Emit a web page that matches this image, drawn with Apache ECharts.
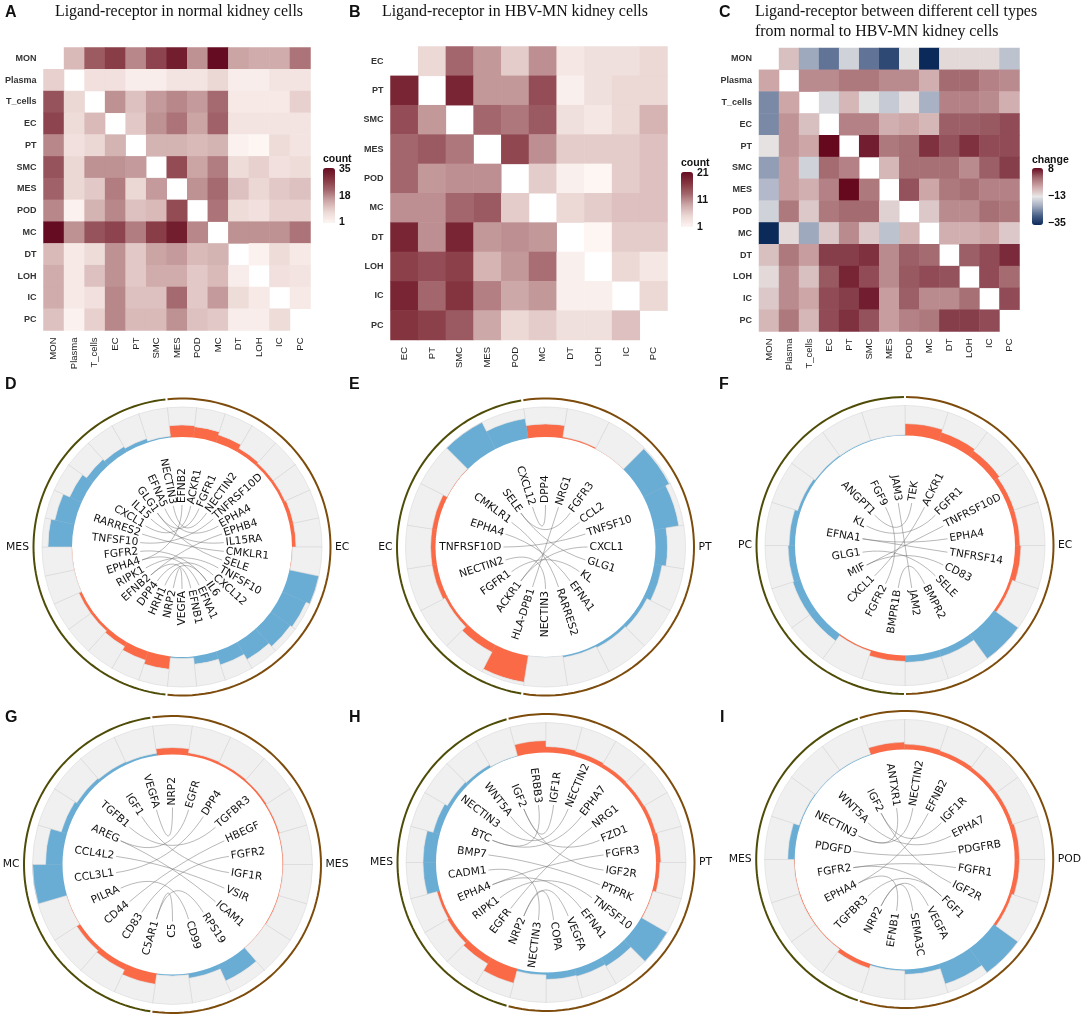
<!DOCTYPE html>
<html><head><meta charset="utf-8">
<style>html,body{margin:0;padding:0;background:#fff}#c{width:1084px;height:1019px}</style>
<script src="https://cdn.jsdelivr.net/npm/echarts@6/dist/echarts.min.js"></script>
</head><body><div id="c"></div>
<script>
// ---------- heatmap data ----------
const cellsA = ['MON','Plasma','T_cells','EC','PT','SMC','MES','POD','MC','DT','LOH','IC','PC'];
const cellsB = ['EC','PT','SMC','MES','POD','MC','DT','LOH','IC','PC'];
const _ = null;
const countsA = [
 [_,12,23,27,18,26,32,17,35,15,14,14,20],
 [9,_,6,6,3,3,5,5,8,3,3,5,5],
 [24,8,_,17,11,16,18,16,21,4,4,4,9],
 [26,7,12,_,10,17,20,15,22,5,5,5,5],
 [18,6,8,13,_,13,13,12,13,2,1,7,5],
 [24,8,17,17,16,_,25,15,19,7,9,6,7],
 [22,8,10,19,8,16,_,17,21,11,8,10,11],
 [18,2,13,18,11,12,25,_,20,7,6,9,9],
 [35,17,24,26,19,27,32,18,_,17,17,17,20],
 [12,4,7,17,10,15,16,12,13,_,2,7,4],
 [14,4,11,17,10,14,14,10,12,3,_,6,5],
 [14,4,6,18,11,11,21,10,16,7,4,_,4],
 [11,2,9,18,12,12,17,11,10,3,3,7,_]];
const countsB = [
 [_,5,13,10,6,10.5,3,4,4,5],
 [18.5,_,18.5,10,10,15,2,4,5,5],
 [15,10,_,13,12,14,4,3,5,8],
 [13,14,12,_,15.5,10.5,6,6,6,7],
 [13,10,10.5,10.5,_,6,2,1,6,7],
 [10.5,10.5,13,14,6,_,5,6,7,7],
 [18.5,10.5,18.5,10,10.5,10,_,1,6,6],
 [16,15,16,8,10,12.5,2,_,5,3],
 [18.5,13,17,11.5,9,10,2,2,_,5],
 [17,16,14,9,5,6,4,4,7,_]];
const changeC = [
 [_,-9,-21,-26,-16,-26,-31,-14,-35,-12,-12,-12,-18],
 [-6,_,-3,-3,-1,-1,-3,-3,-7,0.5,0.5,-2,-3],
 [-24,-6,_,-15,-8,-14,-17,-12.5,-20,-2,-2,-3,-7],
 [-24,-4,-9,_,-2,-2,-7,-6,-8,1.5,1.5,2,3],
 [-13,-4,-6,8,_,6.5,-1,0,5,2.5,5,3,3],
 [-22,-5,-16,0.5,-2,_,-8,0,0,0,-3,1.5,4],
 [-19,-5,-7,-2,8,-1,_,2.5,-6,-1,0,-2,-2],
 [-16,-1,-10,-1,0.5,0.5,-11,_,-10,-3,-3,0,-1],
 [-35,-12,-21,-10,-3,-10,-18,-8,_,-7,-7,-6,-10],
 [-9,-1,-5,4,4,5,-3,1.5,0.5,_,1.5,3,5.5],
 [-12,-3,-9,2,6,3,-3,2,3,2.5,_,3,0.5],
 [-10,-3,-6,3,4,6.5,-5,1.5,-3,-3,0,_,3],
 [-8,-1,-8,3,5,2.5,-5,-2,-1,4,4,3,_]];
const ticksA = ['35','18','1'], ticksB = ['21','11','1'], ticksC = ['8','\u221213','\u221235'];

// ---------- circular panels data (clockwise from the start of the right-hand half) ----------
const dLabels = ['EFNB2','ACKR1','FGFR1','NECTIN2','TNFRSF10D','EPHA4','EPHB4','IL15RA','CMKLR1','SELE','TNFSF10','CXCL12','IL6','EFNA1','EFNB1','VEGFA','NRP2','HRH1','DPP4','EFNB2','RIPK1','EPHA4','FGFR2','TNFSF10','RARRES2','CXCL1','IL15','GLG1','EFNA5','NECTIN3'];
const dValues = [12,11,8,4,3,3,4,4,0.5,30,26,24,20,14,8,1.5,13,9,5,3,3,0.3,0.3,24,20,13,8,6,4,1.5];
const dKinds  = 'OOOOOOOOOBBBBBBBOOOOOOOBBBBBBB';
const dChords = [[0,21],[1,25],[2,27],[3,29],[4,23],[5,28],[6,19],[7,26],[8,24],[9,27],[10,20],[11,18],[12,17],[13,21],[14,19],[15,16],[22,12]];

const eLabels = ['DPP4','NRG1','FGFR3','CCL2','TNFSF10','CXCL1','GLG1','KL','EFNA1','RARRES2','NECTIN3','HLA-DPB1','ACKR1','FGFR1','NECTIN2','TNFRSF10D','EPHA4','CMKLR1','SELE','CXCL12'];
const eValues = [13,1.5,0.3,29,25,12,8,4,3,2,0.3,27,8,3,5,5,5,0.6,30,20];
const eKinds  = 'OOOBBBBBBBBOOOOOOOBB';
const eChords = [[0,19],[1,11],[2,18],[3,12],[4,15],[5,12],[6,18],[7,13],[8,16],[9,17],[10,14]];

const fLabels = ['TEK','ACKR1','FGFR1','TNFRSF10D','EPHA4','TNFRSF14','CD83','SELE','BMPR2','JAM2','BMPR1B','FGFR2','CXCL1','MIF','GLG1','EFNA1','KL','ANGPT1','FGF9','JAM3'];
const fValues = [12,9,7,5,5,6,3,30,7,7,6,1.5,8,8,7,6,3,1.5,1,0.8];
const fKinds  = 'OOOOOOOBBBOOBBBBBBBB';
const fChords = [[0,17],[1,12],[2,16],[3,13],[4,15],[5,15],[6,13],[7,14],[8,10],[9,19],[11,18]];

const gLabels = ['NRP2','EGFR','DPP4','TGFBR3','HBEGF','FGFR2','IGF1R','VSIR','ICAM1','RPS19','CD99','C5','C5AR1','CD83','CD44','PILRA','CCL3L1','CCL4L2','AREG','TGFB1','IGF1','VEGFA'];
const gValues = [7,3,2.5,2,1.5,1,0.8,1,0.5,18,5,1.5,11,6,4,0.5,30,17,6,4,3,2.5];
const gKinds  = 'OOOOOOOOOBBBOOOOBBBBBB';
const gChords = [[21,0],[1,18],[2,16],[3,19],[4,14],[5,13],[6,20],[7,17],[8,18],[9,12],[10,15],[11,12]];

const hLabels = ['ERBB3','IGF1R','NECTIN2','EPHA7','NRG1','FZD1','FGFR3','IGF2R','PTPRK','TNFSF10','EFNA1','VEGFA','COPA','NECTIN3','NRP2','EGFR','RIPK1','EPHA4','CADM1','BMP7','BTC','NECTIN3','WNT5A','IGF2'];
const hValues = [12,6,5,4,3.5,4,5,4,1,30,10,8,7,2.5,15,7,4,3,13,13,7,4,3,0.8];
const hKinds  = 'OOOOOOOOOBBBBBOOOOBBBBBB';
const hChords = [[0,20],[1,23],[2,21],[3,20],[4,15],[5,22],[6,17],[7,23],[8,19],[9,16],[10,17],[11,14],[12,14],[13,18]];

const iLabels = ['ANTXR1','NECTIN2','EFNB2','IGF1R','EPHA7','PDGFRB','FGFR1','IGF2R','FGF1','VEGFA','SEMA3C','EFNB1','NRP2','TGFBR3','EPHA4','FGFR2','PDGFD','NECTIN3','WNT5A','IGF2'];
const iValues = [7.5,5.5,4.5,4,4,5,5,3,30,21,5,1.5,4.5,1,1,0.8,7,1.2,0.8,0.8];
const iKinds  = 'OOOOOOOOBBBBOOOOBBBB';
const iChords = [[0,17],[1,17],[2,14],[3,19],[4,18],[5,16],[6,15],[7,19],[8,15],[8,13],[9,12],[10,12],[11,14]];

const ORANGE='#fb6a47', BLUE='#69add5', GREY='#f0f0f0';
const series=[], grid=[], xAxis=[], yAxis=[], visualMap=[], polar=[], angleAxis=[], radiusAxis=[];

// ---------- heatmaps ----------
function addHeat(cats, matrix, box, vm){
  const gi = grid.length;
  grid.push({left:box[0], top:box[1], width:box[2], height:box[3]});
  xAxis.push({type:'category', gridIndex:gi, data:cats, axisLine:{show:false}, axisTick:{show:false}, splitLine:{show:false}, splitArea:{show:false},
    axisLabel:{rotate:90, interval:0, margin:7, color:'#222', fontFamily:'Liberation Sans', fontSize:9.5}});
  yAxis.push({type:'category', gridIndex:gi, inverse:true, data:cats, axisLine:{show:false}, axisTick:{show:false}, splitLine:{show:false}, splitArea:{show:false},
    axisLabel:{interval:0, margin:7, color:'#333', fontFamily:'Liberation Sans', fontSize:9, fontWeight:'bold'}});
  const data=[];
  matrix.forEach((row,y)=>row.forEach((v,x)=>{ if(v!==null) data.push([x,y,v]); }));
  const si = series.length;
  series.push({type:'heatmap', xAxisIndex:gi, yAxisIndex:gi, data, silent:true, animation:false, itemStyle:{borderWidth:0}, progressive:0});
  visualMap.push({type:'continuous', seriesIndex:si, dimension:2, min:vm.min, max:vm.max, left:vm.x, top:vm.y, itemWidth:vm.w, itemHeight:vm.h,
    padding:0, calculable:false, text:null, showLabel:false, inRange:{color:vm.colors}, textStyle:{fontSize:0}});
}
const reds = ['#fdf6f3','#ecd8d5','#cda8a8','#a3666c','#84343f','#660c22'];
addHeat(cellsA, countsA, [43.5,47.5,267,283], {min:1,max:35,x:323,y:168,w:12,h:55,colors:reds});
addHeat(cellsB, countsB, [390.5,46.5,277,293.5], {min:1,max:21,x:681,y:172,w:12,h:55,colors:reds});
addHeat(cellsA, changeC, [759,48,260.5,283.5], {min:-35,max:8,x:1032,y:168,w:11,h:57,
  colors:['#0b2a5a','#4a6188','#a3acc1','#e8e6e6','#cfa9aa','#a2686e','#66091f']});

// ---------- circular panels ----------
function addCircle(p){
  const n = p.labels.length, w = 360/n;
  const start = 90 + p.shift*w;
  const a = polar.length, b = a+1;
  const centre=[p.cx,p.cy];
  polar.push({center:centre, radius:[0,150]}, {center:centre, radius:[0,150]});
  const RMIN=-110, RMAX=40, TOP=30;
  [a,b].forEach(k=>radiusAxis.push({polarIndex:k, type:'value', min:RMIN, max:RMAX, show:false, axisLine:{show:false}, axisTick:{show:false}, axisLabel:{show:false}, splitLine:{show:false}}));
  angleAxis.push({polarIndex:a, type:'category', data:p.labels.map((s,i)=>i), startAngle:start, clockwise:true, boundaryGap:true, show:false, axisLine:{show:false}, axisTick:{show:false}, axisLabel:{show:false}, splitLine:{show:false}});
  angleAxis.push({polarIndex:b, type:'value', min:0, max:n, startAngle:start, clockwise:true, show:false, axisLine:{show:false}, axisTick:{show:false}, axisLabel:{show:false}, splitLine:{show:false}});
  const stack='s'+a;
  series.push({type:'bar', coordinateSystem:'polar', polarIndex:a, stack, barWidth:'100%', barCategoryGap:'0%', silent:true, animation:false,
    data:p.values, itemStyle:{color:q=>p.kinds[q.dataIndex]==='O'?ORANGE:BLUE}});
  series.push({type:'bar', coordinateSystem:'polar', polarIndex:a, stack, barWidth:'100%', barCategoryGap:'0%', silent:true, animation:false,
    data:p.values.map(v=>Math.max(TOP-v,0)), itemStyle:{color:GREY, borderColor:'#dadada', borderWidth:0.6}});
  const custom = (data, renderItem)=>series.push({type:'custom', coordinateSystem:'polar', polarIndex:b, data, renderItem, silent:true, animation:false, clip:false});
  // separators between the cells
  custom(p.labels.map((s,i)=>[0,i]), (q,api)=>{
    const i=q.dataIndex, P0=api.coord([0,i]), P1=api.coord([TOP,i]);
    return {type:'line', shape:{x1:P0[0],y1:P0[1],x2:P1[0],y2:P1[1]},
      style:{stroke:p.kinds[i]==='O'?'rgba(150,105,95,0.55)':'rgba(95,125,150,0.55)', lineWidth:1}};
  });
  // outer half rings with the cell-type names
  const RING=38.5, NAME=43;
  const g=0.4/w;
  const halves=[[g,p.right-g,'#7d4c0c',p.names[0]],[p.right+g,n-g,'#4f4c08',p.names[1]]];
  custom(halves.map(h=>[RING,h[0]]), (q,api)=>{
    const h=halves[q.dataIndex], pts=[];
    for(let t=0;t<=80;t++) pts.push(api.coord([RING,h[0]+(h[1]-h[0])*t/80]));
    const mid=api.coord([NAME,(h[0]+h[1])/2]);
    return {type:'group',children:[
      {type:'polyline',shape:{points:pts},style:{stroke:h[2],fill:null,lineWidth:2}},
      {type:'text',x:mid[0],y:mid[1],style:{text:h[3],fill:'#111',font:'10.8px "DejaVu Sans"',
        align:q.dataIndex===0?'left':'right',textAlign:q.dataIndex===0?'left':'right',verticalAlign:'middle',textVerticalAlign:'middle'}}
    ]};
  });
  // chords
  const LAB=p.labelR-110;
  const ctrl=RMIN+(LAB-2-RMIN)*0.35;
  custom(p.chords, (q,api)=>{
    const c=p.chords[q.dataIndex], A=c[0]+0.5, B=c[1]+0.5;
    const P0=api.coord([LAB-2,A]), P1=api.coord([LAB-2,B]), C0=api.coord([ctrl,A]), C1=api.coord([ctrl,B]);
    return {type:'bezierCurve', shape:{x1:P0[0],y1:P0[1],x2:P1[0],y2:P1[1],cpx1:C0[0],cpy1:C0[1],cpx2:C1[0],cpy2:C1[1]},
      style:{stroke:'rgba(105,105,105,0.6)',fill:null,lineWidth:0.8}};
  });
  // gene labels
  custom(p.labels.map((s,i)=>[LAB,i+0.5]), (q,api)=>{
    const i=q.dataIndex, P=api.coord([LAB,i+0.5]);
    const theta=(((i+0.5)*w-p.shift*w)%360+360)%360, onRight=theta<180;
    const rot=(onRight?90-theta:270-theta)*Math.PI/180;
    return {type:'text',x:P[0],y:P[1],rotation:rot,style:{text:p.labels[i],fill:'#111',font:'10.6px "DejaVu Sans"',
      align:onRight?'left':'right',textAlign:onRight?'left':'right',verticalAlign:'middle',textVerticalAlign:'middle'}};
  });
}
addCircle({labels:dLabels,values:dValues,kinds:dKinds,chords:dChords,shift:.5,right:16,cx:182,cy:547,labelR:44,names:['EC','MES']});
addCircle({labels:eLabels,values:eValues,kinds:eKinds,chords:eChords,shift:.5,right:11,cx:545.5,cy:547,labelR:44,names:['PT','EC']});
addCircle({labels:fLabels,values:fValues,kinds:fKinds,chords:fChords,shift:0,right:10,cx:905,cy:545.5,labelR:45,names:['EC','PC']});
addCircle({labels:gLabels,values:gValues,kinds:gKinds,chords:gChords,shift:.5,right:12,cx:172.5,cy:864.5,labelR:59,names:['MES','MC']});
addCircle({labels:hLabels,values:hValues,kinds:hKinds,chords:hChords,shift:1,right:14,cx:546,cy:862.5,labelR:60,names:['PT','MES']});
addCircle({labels:iLabels,values:iValues,kinds:iKinds,chords:iChords,shift:1,right:12,cx:904.7,cy:859.5,labelR:54,names:['POD','MES']});

// ---------- free text ----------
const txt=(text,x,y,font,fill)=>({type:'text',silent:true,style:{text,x,y,font,fill:fill||'#111',verticalAlign:'middle',textVerticalAlign:'middle'}});
const SER='15.9px "Liberation Serif"', LET='bold 16px "Liberation Sans"', LEG='bold 10.5px "Liberation Sans"';
const elements=[
 txt('A',5,13,LET),txt('B',349,13,LET),txt('C',719,13,LET),
 txt('D',5,385,LET),txt('E',349,385,LET),txt('F',719,385,LET),
 txt('G',5,718,LET),txt('H',349,718,LET),txt('I',720,718,LET),
 txt('Ligand-receptor in normal kidney cells',55,12,SER),
 txt('Ligand-receptor in HBV-MN kidney cells',382,12,SER),
 txt('Ligand-receptor between different cell types',755,12,SER),
 txt('from normal to HBV-MN kidney cells',755,32,SER),
 txt('count',323,159,LEG),
 txt(ticksA[0],339,169,LEG),txt(ticksA[1],339,196,LEG),txt(ticksA[2],339,222,LEG),
 txt('count',681,163,LEG),
 txt(ticksB[0],697,173,LEG),txt(ticksB[1],697,200,LEG),txt(ticksB[2],697,227,LEG),
 txt('change',1032,160,LEG),
 txt(ticksC[0],1048,169,LEG),txt(ticksC[1],1048,196,LEG),txt(ticksC[2],1048,223,LEG)
];

const chart=echarts.init(document.getElementById('c'),null,{renderer:'canvas'});
chart.setOption({backgroundColor:'#fff',animation:false,grid,xAxis,yAxis,visualMap,polar,angleAxis,radiusAxis,series,graphic:{elements}});
</script></body></html>
